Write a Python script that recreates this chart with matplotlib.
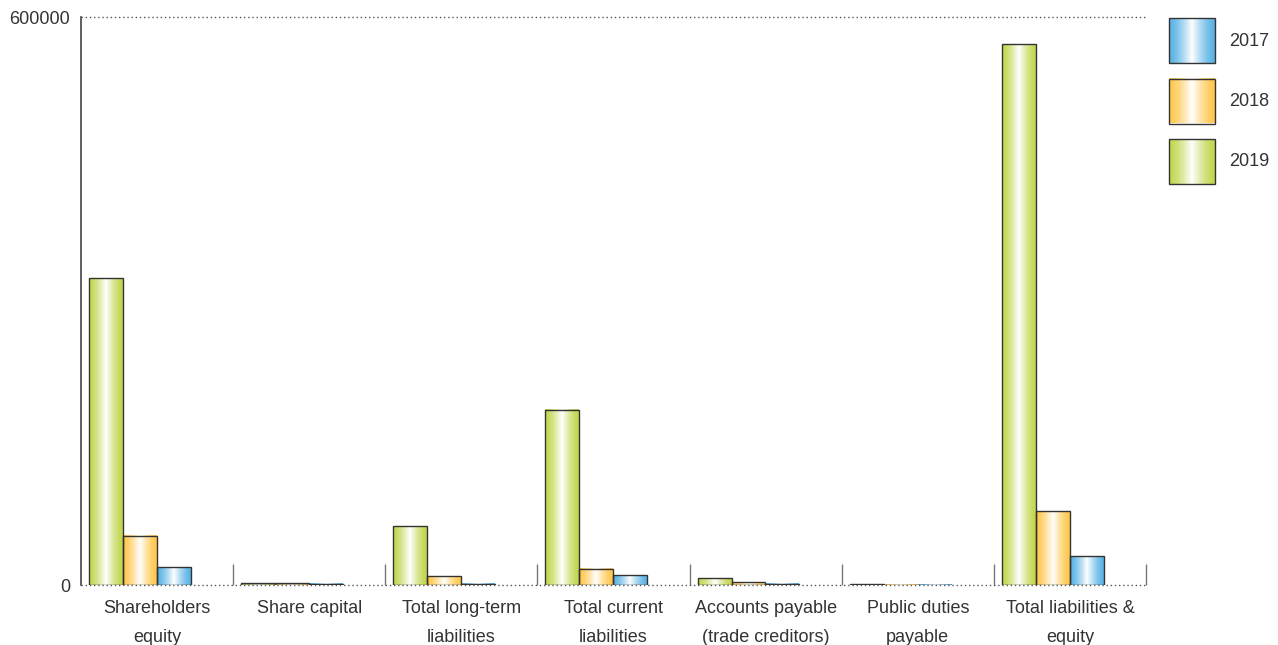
import numpy as np
import matplotlib.pyplot as plt
from matplotlib.patches import Rectangle

plt.rcParams['font.family'] = ['Liberation Sans', 'DejaVu Sans']

categories = ["Shareholders\nequity", "Share capital", "Total long-term\nliabilities",
              "Total current\nliabilities", "Accounts payable\n(trade creditors)",
              "Public duties\npayable", "Total liabilities &\nequity"]
years = ["2019", "2018", "2017"]
v2019 = [324000, 2000, 62000, 185000, 7000, 1000, 571000]
v2018 = [52000, 2000, 9500, 17000, 3000, 500, 78000]
v2017 = [19000, 1500, 1500, 10500, 1500, 500, 30500]
series = [v2019, v2018, v2017]
colors = {"2019": (0.76, 0.84, 0.30), "2018": (1.0, 0.78, 0.30), "2017": (0.35, 0.70, 0.90)}

text_col = "#333333"


def gradient(color, n=64):
    t = np.linspace(0, 1, n)
    w = (1 - np.abs(2 * t - 1)) ** 1.4
    c = np.array(color)
    rgb = c[None, :] + (1 - c[None, :]) * w[:, None]
    return rgb[None, :, :]


fig = plt.figure(figsize=(12.78, 6.45), dpi=100)
ax = fig.add_axes([81 / 1278, 1 - 585 / 645, (1146 - 81) / 1278, (585 - 17) / 645])

x = np.arange(len(categories))
bw = 0.223
off = 0.053
for i, (yr, vals) in enumerate(zip(years, series)):
    bars = ax.bar(x + off + i * bw, vals, width=bw, align="edge",
                  facecolor="none", edgecolor="#333333", linewidth=1.0, zorder=3)
    for b in bars:
        ax.imshow(gradient(colors[yr]), extent=[b.get_x(), b.get_x() + b.get_width(), 0, b.get_height()],
                  aspect="auto", zorder=2, interpolation="bilinear")

ax.set_xlim(0, 7)
ax.set_ylim(0, 600000)
ax.axhline(0, color="#555555", ls=(0, (1, 2)), lw=1, zorder=4, clip_on=False)
ax.axhline(600000, color="#555555", ls=(0, (1, 2)), lw=1, zorder=4, clip_on=False)

for s in ["top", "right", "bottom"]:
    ax.spines[s].set_visible(False)
ax.spines["left"].set_color("#444444")
ax.spines["left"].set_linewidth(1.2)

ax.set_yticks([0, 600000])
ax.set_yticklabels(["0", "600000"], fontsize=13, color=text_col)
ax.tick_params(axis="y", length=0, pad=8)

ax.set_xticks(np.arange(1, 8))
ax.set_xticklabels([])
ax.tick_params(axis="x", which="major", direction="in", length=15, color="#777777", width=1)
ax.set_xticks(x + 0.5, minor=True)
ax.set_xticklabels(categories, minor=True, fontsize=13, color=text_col, linespacing=1.9)
ax.tick_params(axis="x", which="minor", length=0, pad=11)

# legend
lax = fig.add_axes([1160 / 1278, 1 - 200 / 645, 118 / 1278, 190 / 645])
lax.set_xlim(0, 118)
lax.set_ylim(200, 10)
lax.axis("off")
for j, yr in enumerate(["2017", "2018", "2019"]):
    top = 18 + j * 60.5
    lax.imshow(gradient(colors[yr]), extent=[9, 55, top + 45, top], aspect="auto",
               interpolation="bilinear", zorder=2)
    lax.add_patch(Rectangle((9, top), 46, 45, fill=False, edgecolor="#333333", lw=1.0, zorder=3))
    lax.text(69, top + 23, yr, fontsize=13, color=text_col, va="center", ha="left")
lax.set_xlim(0, 118)
lax.set_ylim(200, 10)

fig.savefig("out.png", dpi=100)
